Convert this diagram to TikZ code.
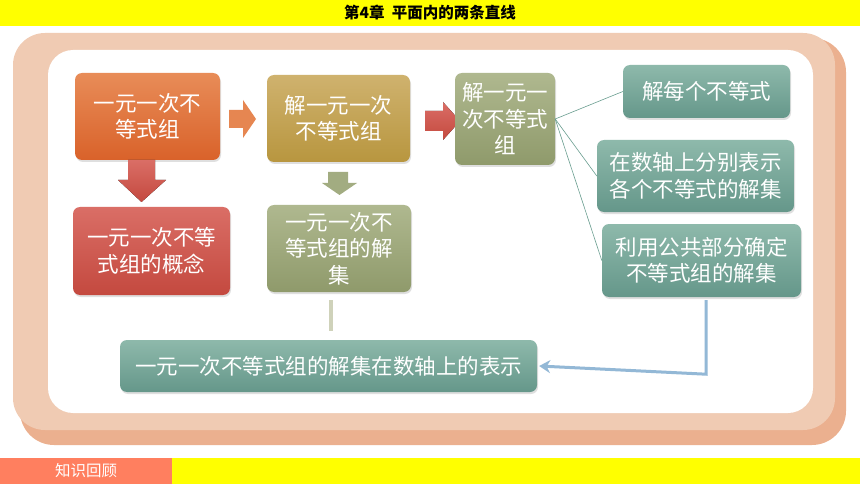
\documentclass[tikz,border=0pt]{standalone}
\usepackage{fontspec}
\newfontfamily\cjk{Noto Sans CJK SC}
\usepackage{tikz}
\usetikzlibrary{shapes, arrows, calc, positioning, backgrounds, fit, shadows}
\usetikzlibrary{arrows.meta}

\definecolor{barYellow}{HTML}{FFFF00}
\definecolor{barCoral}{HTML}{FF7F5F}
\definecolor{frameLight}{HTML}{F0CBB3}
\definecolor{frameDark}{HTML}{EBB08F}
\definecolor{orangeTop}{HTML}{E88C58}
\definecolor{orangeBot}{HTML}{D9622A}
\definecolor{goldTop}{HTML}{CFB26E}
\definecolor{goldBot}{HTML}{B8963F}
\definecolor{redTop}{HTML}{DA6E66}
\definecolor{redBot}{HTML}{C4493F}
\definecolor{oliveTop}{HTML}{AFB88F}
\definecolor{oliveBot}{HTML}{8F9A6B}
\definecolor{tealTop}{HTML}{8EB9AB}
\definecolor{tealBot}{HTML}{65978A}
\definecolor{tealLine}{HTML}{6A9E90}
\definecolor{grayLine}{HTML}{CFD2BA}
\definecolor{blueLine}{HTML}{93B8D6}

\begin{document}
\begin{tikzpicture}[
      x=1pt, y=-1pt,
      every node/.style={font=\cjk\fontsize{21.5}{26.5}\selectfont, text=white, align=center},
      box/.style={rectangle, rounded corners=7pt, inner sep=2pt,
        drop shadow={opacity=0.25, shadow xshift=1pt, shadow yshift=-2pt}},
      orangebox/.style={box, top color=orangeTop, bottom color=orangeBot},
      goldbox/.style={box, top color=goldTop, bottom color=goldBot},
      redbox/.style={box, top color=redTop, bottom color=redBot},
      olivebox/.style={box, top color=oliveTop, bottom color=oliveBot},
      tealbox/.style={box, top color=tealTop, bottom color=tealBot},
      branch/.style={draw=tealLine, line width=0.6pt},
      backarrow/.style={draw=blueLine, line width=3pt, -{Stealth[length=11pt, width=13pt]}}
    ]
    \useasboundingbox (0,0) rectangle (860,484);

    % top and bottom bars
    \fill[barYellow] (0,0) rectangle (860,26);
    \node[text=black, font=\cjk\bfseries\fontsize{15.5}{17}\selectfont] (title) at (430,13) {第4章\ \ 平面内的两条直线};
    \fill[barCoral] (0,458) rectangle (172,484);
    \fill[barYellow] (172,458) rectangle (860,484);
    \node[font=\cjk\fontsize{15.5}{17}\selectfont] (review) at (86,471) {知识回顾};

    % frame
    \fill[frameDark, rounded corners=34pt] (20,38) rectangle (846,445);
    \fill[frameLight, rounded corners=32pt] (13,33) rectangle (835,430);
    \fill[white, rounded corners=25pt] (48,50) rectangle (813,413);

    % first row
    \node[orangebox, minimum width=145pt, minimum height=87pt] (zu) at (147.5,116.5) {一元一次不\\等式组};
    \node[goldbox, minimum width=143pt, minimum height=87pt] (jiefa) at (338.5,118.5) {解一元一次\\不等式组};
    % block arrows
    \fill[orangeTop!85!orangeBot] (229,110) -- (243,110) -- (243,100) -- (256,119)
      -- (243,138) -- (243,128) -- (229,128) -- cycle;
    \fill[top color=redTop, bottom color=redBot] (425,111) -- (443,111) -- (443,102) -- (460,121)
      -- (443,140) -- (443,131) -- (425,131) -- cycle;
    \fill[top color=redTop, bottom color=redBot] (128,160) -- (155,160) -- (155,180) -- (166,180)
      -- (141.5,202) -- (118,180) -- (128,180) -- cycle;
    \fill[oliveTop!60!oliveBot] (328,172) -- (348,172) -- (348,183) -- (357,183)
      -- (339.5,195) -- (322,183) -- (328,183) -- cycle;

    \node[olivebox, minimum width=100pt, minimum height=92pt] (buzhou) at (505,119) {解一元一\\次不等式\\组};

    % second row
    \node[redbox, minimum width=157pt, minimum height=88pt] (gainian) at (151.5,251) {一元一次不等\\式组的概念};
    \node[olivebox, minimum width=144pt, minimum height=87pt] (jieji) at (339,248.5) {一元一次不\\等式组的解\\集};

    % steps
    \node[tealbox, minimum width=167pt, minimum height=53pt] (mei) at (706.5,91.5) {解每个不等式};
    \node[tealbox, minimum width=197pt, minimum height=72pt] (shuzhou) at (695.5,176) {在数轴上分别表示\\各个不等式的解集};
    \node[tealbox, minimum width=199pt, minimum height=73pt] (gonggong) at (701.5,260.5) {利用公共部分确定\\不等式组的解集};
    \draw[branch] (buzhou.east) -- (mei.west);
    \draw[branch] (buzhou.east) -- (shuzhou.west);
    \draw[branch] (buzhou.east) -- (gonggong.west);

    % bottom
    \node[tealbox, minimum width=417pt, minimum height=52pt] (biaoshi) at (328.5,366) {一元一次不等式组的解集在数轴上的表示};
    \draw[grayLine, line width=4pt] ([shift={(-8,8)}]jieji.south) -- ([shift={(2.5,-9)}]biaoshi.north);
    \draw[backarrow] ([shift={(4.5,3)}]gonggong.south) -- ++(0,74) -- ([xshift=2pt]biaoshi.east);
  \end{tikzpicture}
\end{document}
